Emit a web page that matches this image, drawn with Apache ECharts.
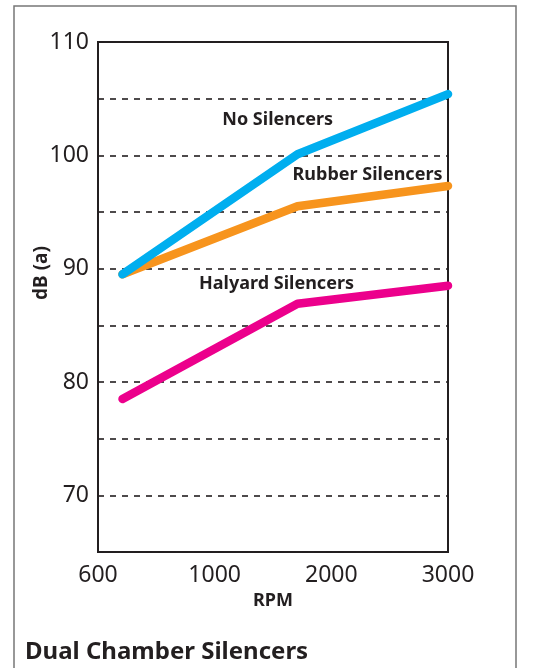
<!DOCTYPE html>
<html>
<head>
<meta charset="utf-8">
<script src="https://cdn.jsdelivr.net/npm/echarts@6/dist/echarts.min.js"></script>
<style>
    html, body { margin: 0; padding: 0; background: #fff; }
    #chart { width: 549px; height: 668px; }
</style>
</head>
<body>
<div id="chart"></div>
<script>
// x 轴：刻度等距排列，用位置索引表示
const xLabels = ["600", "1000", "2000", "3000"];
const xPos = [0.21, 1.71, 3];

const noSilencers = [89.5, 100.1, 105.4];
const rubberSilencers = [89.5, 95.5, 97.3];
const halyardSilencers = [78.5, 86.9, 88.5];

const seriesNames = ["No Silencers", "Rubber Silencers", "Halyard Silencers"];
const seriesColors = ["#00aeef", "#f7941d", "#ec008c"];
// 曲线标签的位置（数据坐标）
const labelCoords = [[1.54, 103.1], [2.31, 98.3], [1.53, 88.7]];

const textColor = "#231f20";
const font = "Noto Sans";

const chart = echarts.init(document.getElementById("chart"));

const allData = [noSilencers, rubberSilencers, halyardSilencers];

chart.setOption({
    animation: false,
    textStyle: { fontFamily: font },
    grid: {
        left: 98, right: 101, top: 42, bottom: 116,
        show: true, borderColor: textColor, borderWidth: 2,
    },
    xAxis: {
        type: "value",
        min: 0, max: 3, interval: 1,
        name: "RPM",
        nameLocation: "middle",
        nameGap: 37,
        nameTextStyle: { fontSize: 18, fontWeight: "bold", color: textColor },
        axisLine: { show: false },
        axisTick: { show: false },
        splitLine: { show: false },
        axisLabel: {
            fontSize: 23, color: textColor, margin: 12,
            formatter: (v) => xLabels[v] || "",
        },
    },
    yAxis: {
        type: "value",
        min: 65, max: 110, interval: 5,
        axisLine: { show: false },
        axisTick: { show: false },
        axisLabel: {
            fontSize: 23, color: textColor, margin: 9,
            formatter: (v) => (v % 10 === 0 ? String(v) : ""),
        },
        splitLine: {
            show: true,
            lineStyle: { color: textColor, type: [6, 6], width: 1.6 },
        },
    },
    series: allData.map((vals, i) => ({
        name: seriesNames[i],
        type: "line",
        data: vals.map((v, j) => [xPos[j], v]),
        showSymbol: false,
        lineStyle: { color: seriesColors[i], width: 8.5, cap: "round", join: "round" },
        z: 3 - i,
        markPoint: {
            symbol: "circle",
            symbolSize: 1,
            silent: true,
            itemStyle: { color: "rgba(0,0,0,0)" },
            data: [{
                coord: labelCoords[i],
                label: {
                    show: true,
                    position: "inside",
                    formatter: seriesNames[i],
                    fontSize: 18, fontWeight: "bold", color: textColor,
                    fontFamily: font,
                },
            }],
        },
    })),
    graphic: [
        {
            type: "rect",
            shape: { x: 14, y: 6, width: 502, height: 700 },
            style: { fill: "none", stroke: "#777", lineWidth: 1.5 },
            silent: true,
        },
        {
            type: "text",
            x: 42, y: 273,
            rotation: Math.PI / 2,
            style: {
                text: "dB (a)",
                font: "bold 19px 'Noto Sans'",
                fill: textColor,
                align: "center",
                verticalAlign: "middle",
            },
        },
        {
            type: "text",
            left: 25, top: 640,
            style: {
                text: "Dual Chamber Silencers",
                font: "bold 24px 'Noto Sans'",
                fill: textColor,
            },
        },
    ],
});
</script>
</body>
</html>
